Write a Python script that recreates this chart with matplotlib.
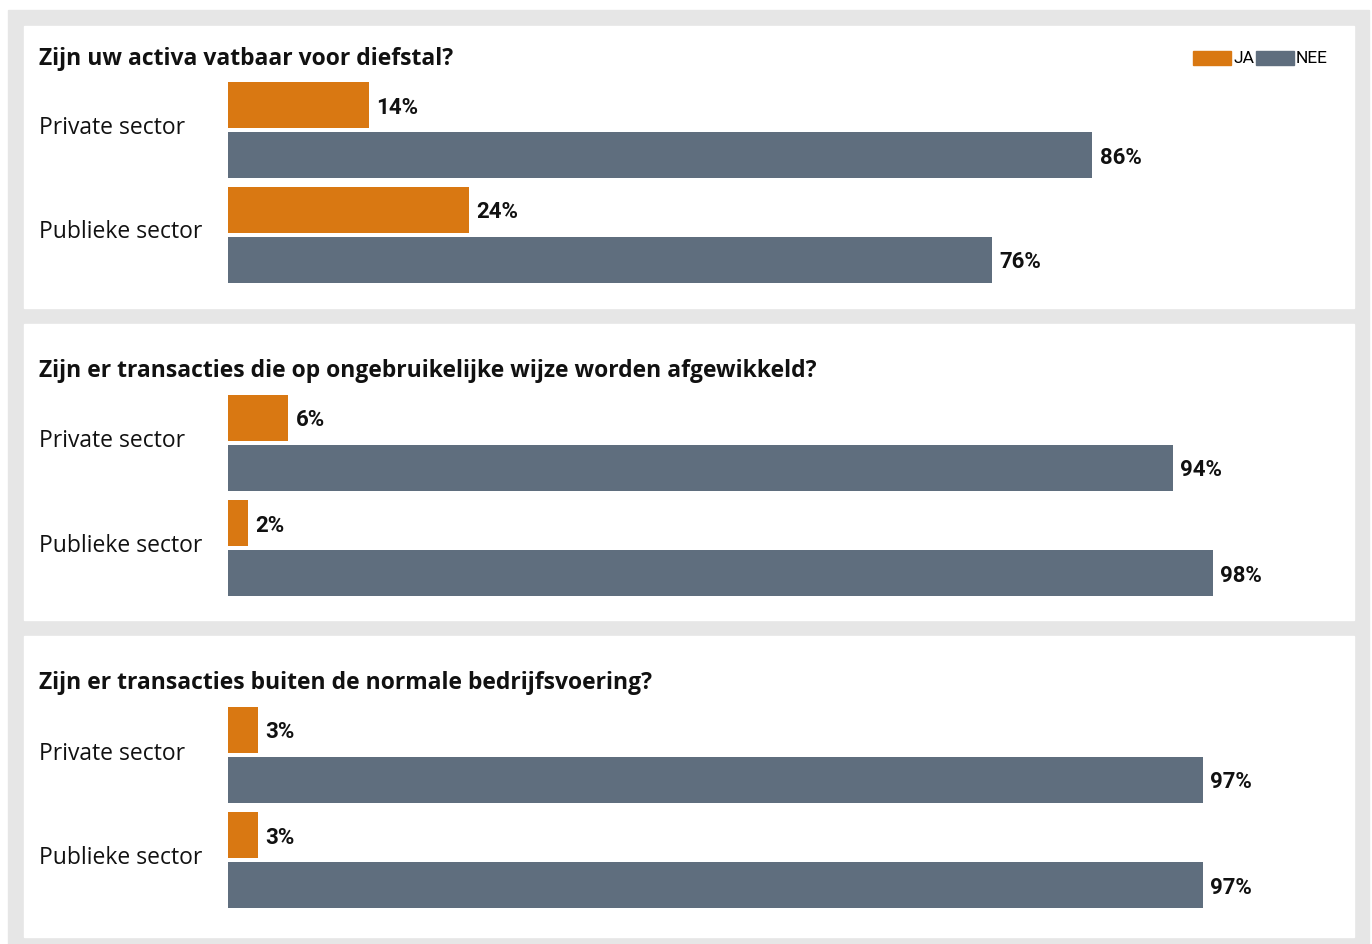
import matplotlib
matplotlib.use("Agg")
import matplotlib.pyplot as plt
from matplotlib.patches import Rectangle

# data
questions = ["Zijn uw activa vatbaar voor diefstal?",
             "Zijn er transacties die op ongebruikelijke wijze worden afgewikkeld?",
             "Zijn er transacties buiten de normale bedrijfsvoering?"]
sectors = ["Private sector", "Publieke sector"]
ja = [[14, 24], [6, 2], [3, 3]]
nee = [[86, 76], [94, 98], [97, 97]]
series = ["JA", "NEE"]

ORANGE = "#D97812"
SLATE = "#5F6E7E"
BG = "#E6E6E6"
W, H = 1372, 944

plt.rcParams['font.family'] = ['Open Sans', 'DejaVu Sans']
narrow = ['Liberation Sans Narrow', 'Roboto', 'DejaVu Sans']

fig = plt.figure(figsize=(W/100, H/100), dpi=100, facecolor="white")

def fx(x): return x/W
def fy(y): return 1-y/H

def rect(x0, y0, x1, y1, c, z=-2):
    fig.patches.append(Rectangle((fx(x0), fy(y1)), (x1-x0)/W, (y1-y0)/H,
                                 transform=fig.transFigure, color=c, zorder=z))

rect(8, 10, 1369, 944, BG, -3)
panels = [(26, 308), (324, 620), (636, 937)]
title_y = [59, 371, 683]
bar_top = [82, 395, 707]
px_per_pct = 10.05

for i, q in enumerate(questions):
    p0, p1 = panels[i]
    rect(24, p0, 1354, p1, "white")
    fig.text(fx(39), fy(title_y[i]), q, fontsize=16.5, fontweight="bold",
             va="center", ha="left", color="#111111")

    top = bar_top[i]
    ax = fig.add_axes([fx(228), fy(top+204), (1354-228)/W, 204/H])
    ax.set_xlim(0, (1354-228)/px_per_pct)
    ax.set_ylim(204, 0)
    ax.axis("off")
    ax.patch.set_alpha(0)
    for g, s in enumerate(sectors):
        yj = g*105 + 23
        yn = g*105 + 73
        ax.barh(yj, ja[i][g], height=46, color=ORANGE)
        ax.barh(yn, nee[i][g], height=46, color=SLATE)
        ax.text(ja[i][g] + 0.75, yj + 2.5, "%d%%" % ja[i][g], va="center", ha="left",
                fontsize=16, fontweight="bold", family=narrow, color="#111111")
        ax.text(nee[i][g] + 0.75, yn + 2.5, "%d%%" % nee[i][g], va="center", ha="left",
                fontsize=16, fontweight="bold", family=narrow, color="#111111")
        fig.text(fx(39), fy(top + g*104 + 46.5), s, fontsize=16.5, va="center",
                 ha="left", color="#111111")

# legend
rect(1193, 51, 1231, 65, ORANGE, 1)
fig.text(fx(1233), fy(58.5), series[0], fontsize=12.5, va="center", family=narrow)
rect(1256, 51, 1294, 65, SLATE, 1)
fig.text(fx(1296), fy(58.5), series[1], fontsize=12.5, va="center", family=narrow)

fig.savefig("out.png", dpi=100, facecolor="white")
